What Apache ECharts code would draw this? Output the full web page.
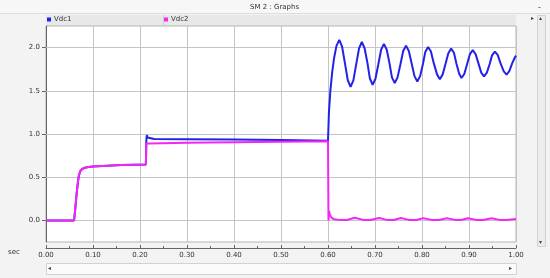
<!DOCTYPE html>
<html>
<head>
<meta charset="utf-8">
<script src="https://cdn.jsdelivr.net/npm/echarts@6/dist/echarts.min.js"></script>
<style>
html,body{margin:0;padding:0;background:#f3f3f3;}
#main{width:550px;height:278px;}
</style>
</head>
<body>
<div id="main"></div>
<script>
// [sec, value]
var vdc2Points = [
	[0,0],[0.0597,0],[0.062,0.12],[0.065,0.3],[0.068,0.45],[0.070,0.52],[0.073,0.57],
	[0.077,0.595],[0.083,0.61],[0.09,0.618],[0.10,0.625],[0.13,0.633],[0.16,0.64],
	[0.19,0.644],[0.2125,0.646],[0.2135,0.89],[0.22,0.89],[0.3,0.9],[0.4,0.905],
	[0.5,0.91],[0.6,0.915],[0.6006,0.915],[0.601,0.0],[0.602,0.11],[0.604,0.07],
	[0.607,0.035],[0.612,0.015],[0.62,0.008],[0.64,0.005],[0.657,0.03],[0.675,0.006],
	[0.69,0.005],[0.709,0.028],[0.725,0.006],[0.74,0.005],[0.755,0.028],[0.772,0.006],
	[0.788,0.005],[0.803,0.026],[0.82,0.006],[0.836,0.005],[0.853,0.025],[0.87,0.006],
	[0.883,0.005],[0.898,0.025],[0.915,0.006],[0.93,0.005],[0.948,0.024],[0.965,0.006],
	[0.98,0.006],[1.0,0.015]
];
var vdc1Points = [
	[0,0],[0.0597,0],[0.062,0.12],[0.065,0.3],[0.068,0.45],[0.070,0.52],[0.073,0.57],
	[0.077,0.595],[0.083,0.61],[0.09,0.618],[0.10,0.625],[0.13,0.633],[0.16,0.64],
	[0.19,0.644],[0.2125,0.646],[0.2135,0.93],[0.2145,0.988],[0.216,0.96],[0.218,0.945],
	[0.23,0.943],[0.3,0.94],[0.4,0.935],[0.5,0.93],[0.6,0.922],[0.6006,0.925],
	[0.602,1.25],[0.605,1.5],[0.609,1.72],[0.613,1.88],[0.618,2.02],[0.624,2.09],
	[0.630,2.01],[0.636,1.82],[0.642,1.625],[0.648,1.545],
	[0.654,1.62],[0.660,1.805],[0.666,1.99],[0.672,2.065],
	[0.678,1.99],[0.684,1.82],[0.689,1.645],[0.695,1.57],
	[0.701,1.64],[0.707,1.805],[0.713,1.975],[0.719,2.043],
	[0.725,1.975],[0.731,1.815],[0.736,1.655],[0.742,1.59],
	[0.748,1.655],[0.754,1.805],[0.760,1.96],[0.766,2.023],
	[0.772,1.96],[0.778,1.815],[0.784,1.67],[0.790,1.608],
	[0.796,1.67],[0.802,1.81],[0.807,1.95],[0.813,2.008],
	[0.819,1.955],[0.825,1.82],[0.832,1.69],[0.838,1.635],
	[0.844,1.69],[0.850,1.81],[0.856,1.935],[0.862,1.988],
	[0.868,1.94],[0.873,1.82],[0.879,1.70],[0.884,1.648],
	[0.890,1.695],[0.896,1.81],[0.902,1.925],[0.908,1.97],
	[0.914,1.925],[0.920,1.82],[0.926,1.71],[0.932,1.666],
	[0.938,1.71],[0.944,1.81],[0.949,1.91],[0.955,1.953],
	[0.961,1.915],[0.967,1.82],[0.974,1.725],[0.980,1.686],
	[0.986,1.73],[0.992,1.82],[0.997,1.88],[1.0,1.907]
];
var yTicks = [0, 0.5, 1.0, 1.5, 2.0];
var seriesNames = ['Vdc1', 'Vdc2'];
var seriesColors = ['#2222e8', '#f526f5'];

var font = 'DejaVu Sans';
var gridLines = [];
for (var i = 0; i < yTicks.length; i++) {
	gridLines.push({yAxis: yTicks[i]});
}

var myChart = echarts.init(document.getElementById('main'));
var option = {
	backgroundColor: '#f3f3f3',
	animation: false,
	textStyle: {fontFamily: font},
	graphic: [
		// title bar
		{type:'rect', left:0, top:0, shape:{width:550, height:13}, style:{fill:'#f7f7f7'}},
		{type:'line', shape:{x1:0, y1:13.5, x2:550, y2:13.5}, style:{stroke:'#dcdcdc', lineWidth:1}},
		{type:'text', left:250, top:4, style:{text:'SM 2 : Graphs', fontSize:7, fontFamily:font, fill:'#333'}},
		{type:'text', left:538, top:4, style:{text:'-', fontSize:8, fontFamily:font, fill:'#444'}},
		// legend band
		{type:'rect', left:46, top:15, shape:{width:470, height:11}, style:{fill:'#e8e8e8'}, z:-1},
		{type:'line', shape:{x1:163.5, y1:15, x2:163.5, y2:26}, style:{stroke:'#cfcfcf', lineWidth:1}},
		// right scroll bar
		{type:'rect', left:537, top:15, shape:{width:8, height:231}, style:{fill:'#ececec', stroke:'#d2d2d2', lineWidth:1}},
		{type:'text', left:539, top:15, style:{text:'\u25B4', fontSize:6, fill:'#444'}},
		{type:'text', left:539, top:239, style:{text:'\u25BE', fontSize:6, fill:'#444'}},
		{type:'text', left:531, top:15, style:{text:'\u25B8', fontSize:6, fill:'#444'}},
		// bottom scroll bar
		{type:'rect', left:46, top:263, shape:{width:470, height:11}, style:{fill:'#fafafa', stroke:'#d2d2d2', lineWidth:1}},
		{type:'text', left:48, top:265, style:{text:'\u25C2', fontSize:6, fill:'#444'}},
		{type:'text', left:509, top:265, style:{text:'\u25B8', fontSize:6, fill:'#444'}},
		// axis unit
		{type:'text', left:8, top:249, style:{text:'sec', fontSize:7, fontFamily:font, fill:'#333'}}
	],
	legend: [
		{data:[seriesNames[0]], left:47, top:16, itemWidth:4, itemHeight:4, itemGap:4, icon:'rect',
			textStyle:{fontSize:7, fontFamily:font, color:'#333', padding:[0,0,0,-2]}, padding:0},
		{data:[seriesNames[1]], left:164, top:16, itemWidth:4, itemHeight:4, itemGap:4, icon:'rect',
			textStyle:{fontSize:7, fontFamily:font, color:'#333', padding:[0,0,0,-2]}, padding:0}
	],
	grid: {
		left: 46, top: 26, right: 34, bottom: 36,
		show: true, backgroundColor: '#ffffff', borderColor: '#b5b5b5', borderWidth: 1
	},
	xAxis: {
		type: 'value', min: 0, max: 1, interval: 0.1, offset: 6,
		axisLine: {show: true, onZero: false, lineStyle: {color: '#666', width: 1}},
		axisTick: {show: true, inside: true, length: 3, lineStyle: {color: '#666'}},
		minorTick: {show: true, splitNumber: 2, length: 2, lineStyle: {color: '#666'}},
		axisLabel: {fontSize: 7, color: '#333', margin: 4, formatter: function(v){ return v.toFixed(2); }},
		splitLine: {show: true, lineStyle: {color: '#c4c4c4', width: 1}}
	},
	yAxis: {
		type: 'value', min: -0.25, max: 2.25,
		axisLine: {show: true, lineStyle: {color: '#666', width: 1}},
		axisTick: {show: true, length: 4, customValues: yTicks, lineStyle: {color: '#666'}},
		axisLabel: {fontSize: 7, color: '#333', margin: 6, customValues: yTicks,
			formatter: function(v){ return v.toFixed(1); }},
		splitLine: {show: false}
	},
	series: [
		// horizontal grid lines, kept under the traces
		{type: 'line', data: [], z: 1, silent: true,
			markLine: {silent: true, z: 1, symbol: 'none', animation: false, label: {show: false},
				lineStyle: {color: '#c4c4c4', width: 1, type: 'solid'}, data: gridLines}},
		{name: seriesNames[0], type: 'line', data: vdc1Points, showSymbol: false, symbol: 'none', z: 2,
			color: seriesColors[0], lineStyle: {width: 2, color: seriesColors[0]}},
		{name: seriesNames[1], type: 'line', data: vdc2Points, showSymbol: false, symbol: 'none', z: 3,
			color: seriesColors[1], lineStyle: {width: 2, color: seriesColors[1]}}
	]
};
myChart.setOption(option, true);
</script>
</body>
</html>
